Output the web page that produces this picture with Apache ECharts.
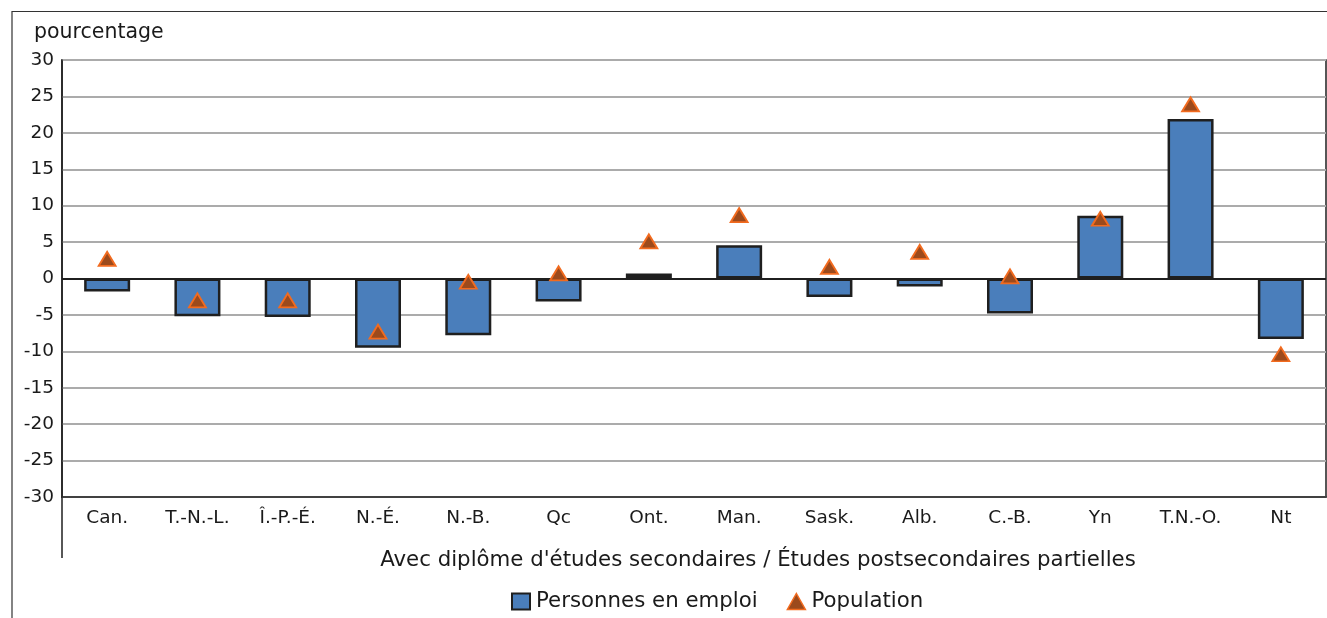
<!DOCTYPE html>
<html>
<head>
<meta charset="utf-8">
<script src="https://cdn.jsdelivr.net/npm/echarts@6/dist/echarts.min.js"></script>
<style>
html,body{margin:0;padding:0;background:#fff;}
#chart{width:1327px;height:618px;}
</style>
</head>
<body>
<div id="chart"></div>
<script>
var categories = ['Can.','T.-N.-L.','Î.-P.-É.','N.-É.','N.-B.','Qc','Ont.','Man.','Sask.','Alb.','C.-B.','Yn','T.N.-O.','Nt'];
var emploi = [-1.8, -5.2, -5.3, -9.5, -7.8, -3.15, 0.7, 4.55, -2.55, -1.1, -4.8, 8.6, 21.9, -8.3];
var population = [2.7, -3.0, -3.0, -7.3, -0.45, 0.7, 5.1, 8.7, 1.6, 3.65, 0.3, 8.2, 23.9, -10.4];
var yTicks = [-30,-25,-20,-15,-10,-5,0,5,10,15,20,25,30];
var seriesNames = ['Personnes en emploi','Population'];
var yAxisTitle = 'pourcentage';
var xAxisTitle = "Avec diplôme d'études secondaires / Études postsecondaires partielles";

var FONT = "'DejaVu Sans', sans-serif";
var TXT = '#1a1a1a';
var chart = echarts.init(document.getElementById('chart'), null, {renderer:'canvas'});
var option = {
  animation: false,
  backgroundColor: '#ffffff',
  textStyle: {fontFamily: FONT, color: TXT},
  title: [
    {text: yAxisTitle, left: 34, top: 22, padding: 0, textStyle: {fontFamily: FONT, fontSize: 20.5, fontWeight: 'normal', color: TXT}},
    {text: xAxisTitle, left: 758, top: 550, padding: 0, textAlign: 'center', textStyle: {fontFamily: FONT, fontSize: 21.3, fontWeight: 'normal', color: TXT}}
  ],
  legend: {
    left: 511, top: 591, padding: 0,
    itemWidth: 18, itemHeight: 16, itemGap: 29,
    textStyle: {fontFamily: FONT, fontSize: 21.3, color: TXT, padding: [0,0,0,1]},
    data: [
      {name: seriesNames[0], icon: 'rect', itemStyle: {color: '#4a7ebb', borderColor: '#1f1f1f', borderWidth: 2}},
      {name: seriesNames[1], icon: 'triangle', itemStyle: {color: '#9c4a1c', borderColor: '#f26b1f', borderWidth: 1.5}}
    ]
  },
  grid: {left: 62, top: 60, right: 1, bottom: 121, show: true, borderColor: '#1f1f1f', borderWidth: 1.5, backgroundColor: 'transparent'},
  xAxis: {
    type: 'category',
    data: categories,
    axisLine: {onZero: false, lineStyle: {color: '#1f1f1f', width: 1.5}},
    axisTick: {show: false},
    axisLabel: {fontFamily: FONT, fontSize: 18.5, color: TXT, margin: 12}
  },
  yAxis: {
    type: 'value',
    min: -30, max: 30, interval: 5,
    axisLine: {show: true, lineStyle: {color: '#1f1f1f', width: 1.5}},
    axisTick: {show: false},
    axisLabel: {fontFamily: FONT, fontSize: 18.5, color: TXT, margin: 8, formatter: function(v){ return yTicks.indexOf(v) >= 0 ? String(v) : ''; }},
    splitLine: {show: true, lineStyle: {color: '#ababab', width: 2}}
  },
  series: [
    {
      name: seriesNames[0],
      type: 'bar',
      data: emploi,
      barWidth: 46,
      itemStyle: {color: '#4a7ebb', borderColor: '#1f1f1f', borderWidth: 2.5},
      markLine: {
        silent: true, symbol: 'none', label: {show: false},
        lineStyle: {color: '#1f1f1f', width: 2, type: 'solid'},
        data: [{yAxis: 0}]
      },
      z: 2
    },
    {
      name: seriesNames[1],
      type: 'scatter',
      data: population,
      symbol: 'triangle',
      symbolSize: [17, 14],
      itemStyle: {color: '#9c4a1c', borderColor: '#f26b1f', borderWidth: 1.8, opacity: 1},
      z: 5
    }
  ],
  graphic: [
    {type: 'rect', shape: {x: 12, y: 11.5, width: 1400, height: 700}, style: {fill: 'none', stroke: '#333333', lineWidth: 1.2}, silent: true, z: 0},
    {type: 'line', shape: {x1: 62, y1: 497, x2: 62, y2: 558}, style: {stroke: '#1f1f1f', lineWidth: 1.5}, silent: true}
  ]
};
chart.setOption(option);
</script>
</body>
</html>
